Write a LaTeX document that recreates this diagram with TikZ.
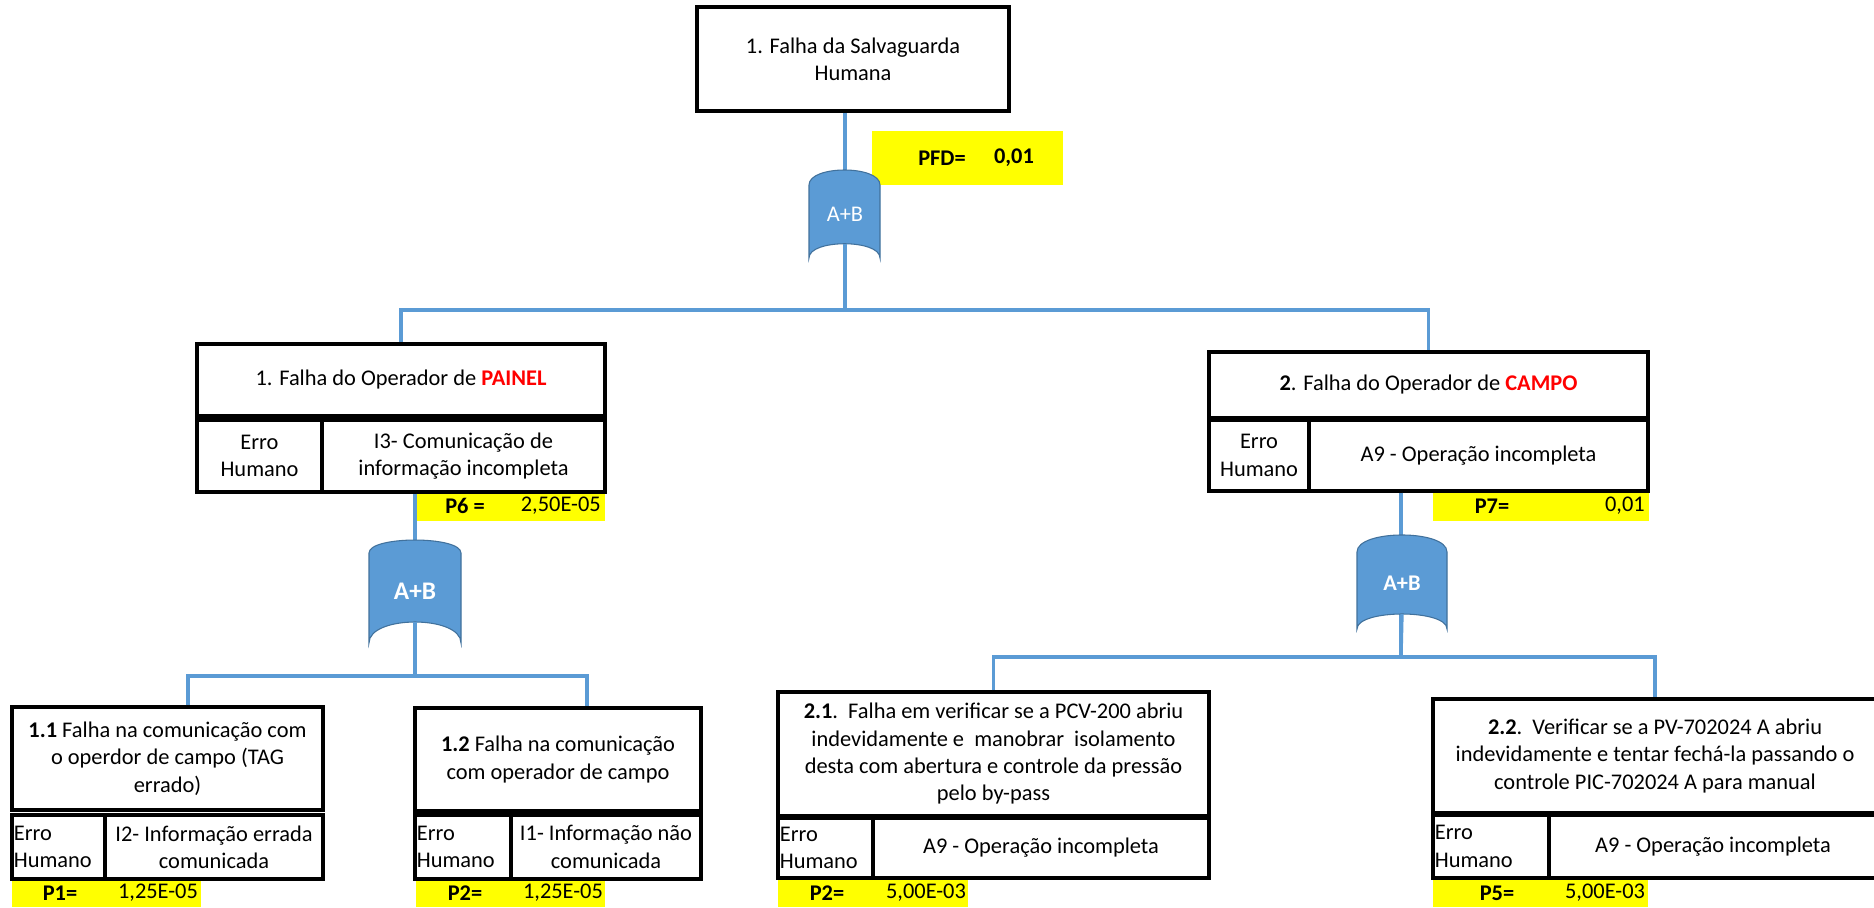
\documentclass[tikz,border=0pt]{standalone}
\usepackage{fontspec}
\setmainfont{Carlito}
\newcommand\fnt{\fontsize{16.8}{20.5}\selectfont}
\definecolor{gateblue}{HTML}{5B9BD5}
\definecolor{gateedge}{HTML}{41719C}
\definecolor{linkblue}{HTML}{5B9BD5}
\definecolor{hiyel}{HTML}{FFFF00}
\definecolor{redw}{HTML}{FF0000}
\tikzset{
  box/.style={draw, line width=3pt, fill=white, inner sep=2pt, align=center, font=\fnt},
  cell/.style={draw, line width=2.6pt, fill=white, inner sep=2pt, align=center, font=\fnt},
  yel/.style={fill=hiyel, inner sep=0pt},
  lbl/.style={inner sep=0pt, font=\fnt},
  conn/.style={draw=linkblue, line width=2.5pt},
  gatefill/.style={fill=gateblue, draw=gateedge, line width=0.8pt},
  gatetxt/.style={inner sep=0pt, text=white, font=\fnt},
}
\begin{document}
\begin{tikzpicture}[x=0.75pt,y=-0.75pt]
\useasboundingbox (0,0) rectangle (1874,907);
\fill[white] (0,0) rectangle (1874,907);

% ---------- yellow probability strips ----------
\node[yel, minimum width=143.25pt, minimum height=40.5pt] (pfd) at (967.5,158) {};
\node[yel, minimum width=141.75pt, minimum height=21.75pt] (yA) at (510.5,506.5) {};
\node[yel, minimum width=162pt, minimum height=21.75pt] (yB) at (1541,506.5) {};
\node[yel, minimum width=141.75pt, minimum height=20.25pt] (y11) at (106.5,893.5) {};
\node[yel, minimum width=141.75pt, minimum height=20.25pt] (y12) at (510.5,893.5) {};
\node[yel, minimum width=142.5pt, minimum height=20.25pt] (y21) at (873,893.5) {};
\node[yel, minimum width=161.25pt, minimum height=20.25pt] (y22) at (1540.5,893.5) {};

% ---------- junction coordinates ----------
\coordinate (j0) at (845,310);
\coordinate (jA) at (415,676);
\coordinate (kL) at (188,676);
\coordinate (kR) at (587,676);
\coordinate (jB) at (1401,657);

% ---------- boxes ----------
\node[box, minimum width=234pt, minimum height=78pt] (top) at (853,59)
  {1. Falha da Salvaguarda\\Humana};

\node[box, minimum width=306pt, minimum height=54pt] (opA) at (401,380)
  {1. Falha do Operador de \textcolor{redw}{\textbf{PAINEL}}};
\node[cell, minimum width=93.75pt, minimum height=54pt] (tA1) at (259.5,456) {Erro\\Humano};
\node[cell, minimum width=212.25pt, minimum height=54pt] (tA2) at (463.5,456)
  {I3- Comunicação de\\informação incompleta};

\node[box, minimum width=329.25pt, minimum height=49.5pt] (opB) at (1428.5,385)
  {\textbf{2}. Falha do Operador de \textcolor{redw}{\textbf{CAMPO}}};
\node[cell, minimum width=75pt, minimum height=53.25pt] (tB1) at (1259,455.5) {Erro\\Humano};
\node[cell, minimum width=254.25pt, minimum height=53.25pt] (tB2) at (1478.5,455.5)
  {A9 - Operação incompleta};

\node[box, minimum width=233.25pt, minimum height=77.25pt] (b11) at (167.5,758.5)
  {\textbf{1.1} Falha na comunicação com\\o operdor de campo (TAG\\errado)};
\node[cell, minimum width=69.75pt, minimum height=48pt] (t111) at (58.5,847) {};
\node[cell, minimum width=163.5pt, minimum height=48pt] (t112) at (214,847)
  {I2- Informação errada\\comunicada};

\node[box, minimum width=214.5pt, minimum height=77.25pt] (b12) at (558,759.5)
  {\textbf{1.2} Falha na comunicação\\com operador de campo};
\node[cell, minimum width=72pt, minimum height=48pt] (t121) at (463,847) {};
\node[cell, minimum width=142.5pt, minimum height=48pt] (t122) at (606,847)
  {I1- Informação não\\comunicada};

\node[box, minimum width=323.25pt, minimum height=93pt] (b21) at (993.5,754)
  {\textbf{2.1}.\ \ Falha em verificar se a PCV-200 abriu\\indevidamente e\ \ manobrar\ \ isolamento\\desta com abertura e controle da pressão\\pelo by-pass};
\node[cell, minimum width=71.25pt, minimum height=45pt] (t211) at (825.5,848) {};
\node[cell, minimum width=252pt, minimum height=45pt] (t212) at (1041,848)
  {A9 - Operação incompleta};

\node[box, minimum width=333pt, minimum height=85.5pt] (b22) at (1655,756)
  {\textbf{2.2}.\ \ Verificar se a PV-702024 A abriu\\indevidamente e tentar fechá-la passando o\\controle PIC-702024 A para manual};
\node[cell, minimum width=87pt, minimum height=47.25pt] (t221) at (1491,846.5) {};
\node[cell, minimum width=246pt, minimum height=47.25pt] (t222) at (1713,846.5)
  {A9 - Operação incompleta};

% left-aligned "Erro Humano" labels
\node[lbl, anchor=west, align=left] (e11) at ([xshift=2.5pt]t111.west) {Erro\\Humano};
\node[lbl, anchor=west, align=left] (e12) at ([xshift=2.5pt]t121.west) {Erro\\Humano};
\node[lbl, anchor=west, align=left] (e21) at ([xshift=2.5pt]t211.west) {Erro\\Humano};
\node[lbl, anchor=west, align=left] (e22) at ([xshift=2.5pt]t221.west) {Erro\\Humano};

% ---------- connectors ----------
\draw[conn] (top.south -| j0) -- (j0);
\draw[conn] (opA.north) |- (j0) -| (opB.north);
\draw[conn] (tA2.south -| jA) -- (jA);
\draw[conn] (b11.north -| kL) -- (kL) -- (kR) -- (b12.north -| kR);
\draw[conn] (tB2.south -| jB) -- (jB);
\draw[conn] (b21.north) |- (jB) -| (b22.north);

% ---------- OR gates ----------
\path[gatefill] (809,185) .. controls (809,165) and (880,165) .. (880,185) -- (880,258)
  .. controls (880,239) and (809,239) .. (809,258) -- cycle;
\node[gatetxt] (g0) at (845,214) {A+B};

\path[gatefill] (369,553) .. controls (369,535.7) and (461,535.7) .. (461,553) -- (461,643)
  .. controls (461,615) and (369,615) .. (369,643) -- cycle;
\node[gatetxt, font=\fontsize{19}{22}\selectfont\bfseries] (g1) at (415,591) {A+B};

\path[gatefill] (1357,552) .. controls (1357,529.3) and (1447,529.3) .. (1447,552) -- (1447,629)
  .. controls (1447,609) and (1357,609) .. (1357,629) -- cycle;
\node[gatetxt, font=\fnt\bfseries] (g2) at (1402,583) {A+B};

% connector segments below the gates (the lines pass behind the gate body)
\draw[conn] (g1.south |- 415,622) -- (jA);
\draw[conn] (g2.south |- 1401,614) -- (jB);
\draw[conn] (g0.south |- 845,244) -- (j0);

% ---------- probability labels ----------
\node[lbl, font=\fnt\bfseries] (pfdL) at (942,158) {PFD=};
\node[lbl, font=\fnt\bfseries] (pfdV) at (1014,158) {0,01};

\node[lbl, font=\fnt\bfseries] (pAL) at (465,506) {P6 =};
\node[lbl, anchor=east] (pAV) at (601,506) {2,50E-05};

\node[lbl, font=\fnt\bfseries] (pBL) at (1492,506) {P7=};
\node[lbl, anchor=east] (pBV) at (1645,506) {0,01};

\node[lbl, font=\fnt\bfseries] (p11L) at (60,893) {P1=};
\node[lbl] (p11V) at (158,893) {1,25E-05};

\node[lbl, font=\fnt\bfseries] (p12L) at (465,893) {P2=};
\node[lbl] (p12V) at (563,893) {1,25E-05};

\node[lbl, font=\fnt\bfseries] (p21L) at (827,893) {P2=};
\node[lbl] (p21V) at (926,893) {5,00E-03};

\node[lbl, font=\fnt\bfseries] (p22L) at (1497,893) {P5=};
\node[lbl] (p22V) at (1605,893) {5,00E-03};
\end{tikzpicture}
\end{document}
